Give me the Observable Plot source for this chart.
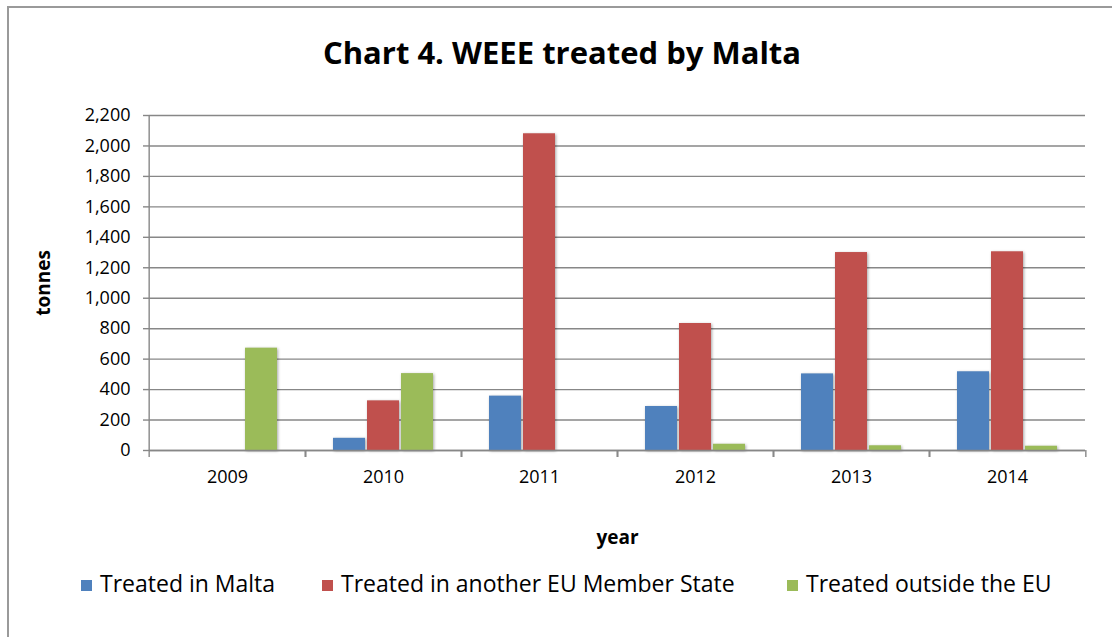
<!DOCTYPE html>
<html><head><meta charset="utf-8">
<script src="https://cdn.jsdelivr.net/npm/d3@7"></script>
<script src="https://cdn.jsdelivr.net/npm/@observablehq/plot@0.6"></script>
<style>
body{margin:0;background:#fff;font-family:"Open Sans",sans-serif;width:1112px;height:637px;overflow:hidden;position:relative}
#frame{position:absolute;left:7px;top:6px;width:1200px;height:700px;border-left:2px solid #9a9a9a;border-top:2px solid #9a9a9a}
#title{position:absolute;top:37px;left:562px;transform:translateX(-50%);font-size:31px;font-weight:700;line-height:31px;white-space:nowrap;color:#000}
#chart{position:absolute;left:0;top:0}
.leg{position:absolute;top:572px;font-size:23px;line-height:23px;white-space:nowrap;color:#000}
.sw{position:absolute;width:11px;height:11px;top:580px}
g[aria-label="bar"] rect{filter:drop-shadow(1px 1px 1.5px rgba(0,0,0,0.35))}
g[aria-label="y-axis label"] text, g[aria-label="fx-axis label"] text{font-weight:700;font-size:19px}
</style></head>
<body>
<div id="frame"></div>
<div id="title">Chart 4. WEEE treated by Malta</div>
<div id="chart"></div>
<div id="legend"></div>
<script>
const years = ["2009", "2010", "2011", "2012", "2013", "2014"];
const seriesNames = ["Treated in Malta", "Treated in another EU Member State", "Treated outside the EU"];
const seriesColors = ["#4F81BD", "#C0504D", "#9BBB59"];
const treatedInMalta = [null, 80, 357, 289, 503, 517];
const treatedInOtherEU = [null, 326, 2080, 834, 1300, 1305];
const treatedOutsideEU = [672, 505, null, 41, 31, 28];
const yTicks = [0, 200, 400, 600, 800, 1000, 1200, 1400, 1600, 1800, 2000, 2200];

const seriesValues = [treatedInMalta, treatedInOtherEU, treatedOutsideEU];
const rows = [];
years.forEach((yr, i) => {
  seriesNames.forEach((s, j) => {
    const v = seriesValues[j][i];
    if (v != null) rows.push({year: yr, series: s, value: v});
  });
});

const W = 1112, H = 560, mL = 147, mR = 25, mT = 115, mB = 110;
const bw = (W - mL - mR) / years.length;
const gray = "#878787";

const chart = Plot.plot({
  width: W, height: H,
  marginLeft: mL, marginRight: mR, marginTop: mT, marginBottom: mB,
  style: {fontFamily: "Open Sans", fontSize: "18px", color: "#000", background: "transparent", overflow: "visible"},
  fx: {domain: years, padding: 0, label: "year"},
  x: {domain: seriesNames, paddingInner: 0, paddingOuter: 0.743, axis: null},
  y: {domain: [0, 2200], label: "tonnes"},
  color: {domain: seriesNames, range: seriesColors},
  marks: [
    Plot.gridY(yTicks, {stroke: gray, strokeOpacity: 1, strokeWidth: 1.4}),
    Plot.barY(rows, {fx: "year", x: "series", y: "value", fill: "series", insetLeft: 1, insetRight: 1}),
    Plot.ruleY([0], {stroke: gray, strokeWidth: 1.4}),
    Plot.ruleX([{year: years[0]}], {fx: "year", x: null, dx: -bw / 2, y1: 0, y2: 2200, stroke: gray, strokeWidth: 1.4}),
    Plot.axisY(yTicks, {tickSize: 6, tickPadding: 13, tickFormat: d3.format(","), stroke: gray, strokeWidth: 1.4, fontSize: 18,
      label: "tonnes", labelAnchor: "center", labelArrow: "none", labelOffset: 113}),
    Plot.axisFx({anchor: "bottom", tickSize: 7, tickFormat: () => "", dx: -bw / 2, stroke: gray, strokeWidth: 1.4, label: null}),
    Plot.axisFx([years[years.length - 1]], {anchor: "bottom", tickSize: 7, tickFormat: () => "", dx: bw / 2, stroke: gray, strokeWidth: 1.4, label: null}),
    Plot.axisFx({anchor: "bottom", tickSize: 0, tickPadding: 20, fontSize: 18, label: "year", labelAnchor: "center", labelArrow: "none", labelOffset: 93})
  ]
});
document.getElementById("chart").appendChild(chart);

const legendLefts = [81, 322, 787];
const leg = document.getElementById("legend");
seriesNames.forEach((s, i) => {
  const sw = document.createElement("div");
  sw.className = "sw";
  sw.style.left = legendLefts[i] + "px";
  sw.style.background = seriesColors[i];
  leg.appendChild(sw);
  const t = document.createElement("div");
  t.className = "leg";
  t.style.left = (legendLefts[i] + 19) + "px";
  t.textContent = s;
  leg.appendChild(t);
});
</script>
</body></html>
